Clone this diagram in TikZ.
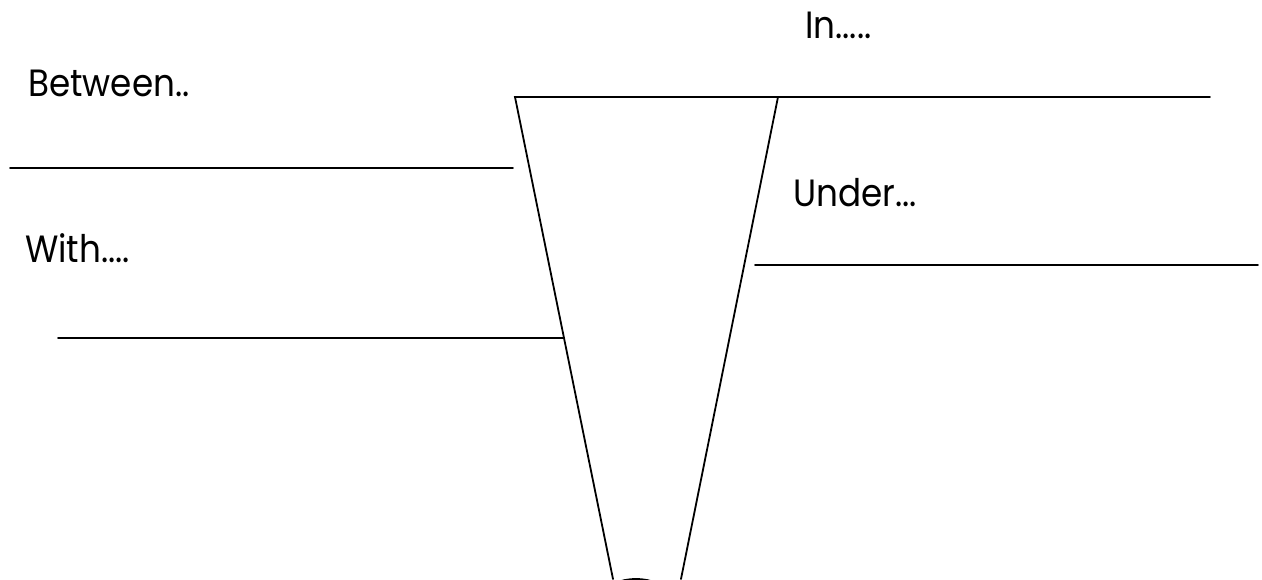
\documentclass[tikz,border=0pt]{standalone}
\usepackage{fontspec}
\setmainfont[FakeStretch=0.9]{Poppins}
\usetikzlibrary{calc}
\begin{document}
\begin{tikzpicture}[x=1pt,y=-1pt,
 word/.style={anchor=base west,inner sep=0pt,font=\fontsize{38}{46}\selectfont},
 rule/.style={line width=1.8pt,line cap=round}]
\useasboundingbox (0,0) rectangle (1262,579);
% funnel corners
\coordinate (tl) at (515,97);
\coordinate (tr) at (778,97);
\coordinate (bl) at (613,579);
\coordinate (br) at (681,579);
\draw[rule,line join=miter] (bl)--(tl)--(tr)--(br);
% answer lines
\coordinate (inend) at (1210,97);
\coordinate (btwa) at (10,168);
\coordinate (btwb) at (513,168);
\coordinate (witha) at (58,338);
\coordinate (withb) at ($(tl)!0.5!(bl)$);
\coordinate (unda) at (755,265);
\coordinate (undb) at (1258,265);
\draw[rule] (tr)--(inend);
\foreach \a/\b in {btwa/btwb,unda/undb} \draw[rule] (\a)--(\b);
\draw[rule] (witha)--(witha-|withb);
% bottom rim
\begin{scope}
\clip (0,0) rectangle (1262,579);
\draw[rule] (636,593) ellipse [x radius=29,y radius=14];
\end{scope}
\node[word] (in) at (805,38) {In.....};
\node[word] (between) at (28,96) {Between..};
\node[word] (with) at (25,262) {With....};
\node[word] (under) at (793,206) {Under...};
\end{tikzpicture}
\end{document}
